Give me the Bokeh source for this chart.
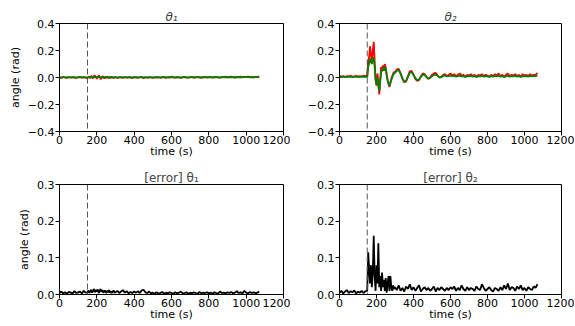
from bokeh.plotting import figure
from bokeh.layouts import gridplot
from bokeh.models import Range1d, FixedTicker, Span
from bokeh.embed import file_html
from bokeh.resources import INLINE

# sample times (s)
t = list(range(0, 150, 10)) + list(range(150, 300, 5)) + list(range(300, 1080, 10))

th1_red = [0.002,-0.004,0.005,0.000,-0.003,0.004,-0.002,0.003,0.001,-0.004,0.002,0.004,-0.001,0.003,-0.002,
    -0.005,0.004,0.008,-0.006,0.010,0.006,-0.008,0.012,0.014,0.003,-0.010,0.006,0.015,0.008,-0.012,-0.006,0.010,0.004,-0.008,0.006,-0.004,0.008,0.002,-0.006,0.005,-0.003,0.004,0.000,-0.005,0.003,
    0.002,-0.004,0.003,0.001,-0.003,0.004,-0.002,0.002,0.000,-0.004,
    0.003,0.001,-0.003,0.002,0.004,-0.006,0.003,-0.002,0.001,0.002,
    -0.003,0.002,0.000,0.003,-0.002,0.001,0.004,-0.003,0.002,0.000,
    0.006,0.002,-0.002,0.003,0.001,-0.003,0.002,0.004,0.000,-0.002,
    0.003,0.005,-0.002,0.002,0.004,0.001,-0.003,0.003,0.005,0.000,
    0.002,0.004,-0.002,0.003,0.005,0.001,-0.002,0.004,0.002,0.006,
    0.001,0.004,0.007,0.002,-0.001,0.005,0.003,0.006,0.002,0.004,
    0.003,0.006,0.002,0.005,0.001,0.004,0.003,0.008]

th1_green = [0.001,0.000,0.002,0.001,0.000,0.002,0.001,0.002,0.001,0.000,0.001,0.002,0.001,0.002,0.001,
    0.000,0.002,0.003,0.001,0.003,0.002,0.000,0.003,0.004,0.002,0.000,0.002,0.004,0.003,0.000,0.001,0.003,0.002,0.000,0.002,0.001,0.002,0.001,0.000,0.002,0.001,0.002,0.001,0.000,0.001,
    0.001,0.000,0.001,0.002,0.001,0.002,0.001,0.001,0.002,0.000,
    0.001,0.002,0.001,0.001,0.002,0.000,0.001,0.001,0.002,0.001,
    0.000,0.001,0.002,0.001,0.001,0.002,0.002,0.001,0.001,0.002,
    0.002,0.001,0.001,0.002,0.001,0.000,0.001,0.002,0.001,0.001,
    0.002,0.002,0.001,0.001,0.002,0.002,0.001,0.002,0.002,0.001,
    0.002,0.002,0.001,0.002,0.003,0.002,0.001,0.002,0.002,0.003,
    0.002,0.002,0.003,0.002,0.002,0.003,0.002,0.003,0.002,0.003,
    0.003,0.003,0.002,0.003,0.002,0.003,0.003,0.004]

th2_red = [0.012,0.006,0.010,0.004,0.011,0.008,0.013,0.005,0.009,0.012,0.006,0.010,0.008,0.013,0.011,
    0.012,0.120,0.150,0.230,0.170,0.120,0.200,0.265,0.120,-0.020,-0.060,0.030,-0.040,-0.125,-0.020,0.080,0.060,0.090,0.050,0.100,0.070,0.020,-0.020,-0.050,-0.070,-0.040,-0.010,0.010,0.030,0.040,
    0.040,0.060,0.065,0.030,-0.010,-0.035,-0.030,0.010,0.045,0.050,
    0.020,-0.010,-0.025,-0.020,0.010,0.030,0.025,0.005,-0.010,0.000,
    0.020,0.030,0.035,0.015,0.000,0.005,0.020,0.025,0.010,0.020,
    0.030,0.015,0.025,0.010,0.020,0.030,0.015,0.020,0.005,0.020,
    0.015,0.025,0.010,0.020,0.005,0.020,0.015,0.025,0.010,0.020,
    0.015,0.005,0.020,0.010,0.025,0.015,0.030,0.010,0.020,0.005,
    0.020,0.030,0.010,0.020,0.015,0.025,0.010,0.020,0.005,0.025,
    0.015,0.020,0.010,0.025,0.015,0.020,0.020,0.035]

th2_green = [0.005,0.003,0.006,0.004,0.005,0.004,0.006,0.003,0.005,0.006,0.004,0.005,0.004,0.006,0.005,
    0.005,0.080,0.100,0.140,0.120,0.100,0.130,0.150,0.080,-0.010,-0.050,0.000,-0.060,-0.100,-0.030,0.040,0.050,0.070,0.050,0.080,0.060,0.020,-0.020,-0.040,-0.060,-0.040,-0.020,0.000,0.020,0.030,
    0.035,0.050,0.055,0.030,-0.005,-0.030,-0.025,0.005,0.035,0.040,
    0.020,-0.005,-0.020,-0.015,0.005,0.020,0.020,0.005,-0.008,-0.002,
    0.010,0.018,0.022,0.012,0.002,0.002,0.010,0.015,0.008,0.010,
    0.014,0.010,0.012,0.006,0.010,0.014,0.008,0.010,0.004,0.008,
    0.008,0.012,0.006,0.010,0.004,0.008,0.008,0.012,0.006,0.010,
    0.008,0.004,0.010,0.006,0.012,0.008,0.014,0.006,0.010,0.004,
    0.008,0.012,0.006,0.010,0.008,0.012,0.006,0.010,0.004,0.010,
    0.008,0.010,0.006,0.012,0.008,0.010,0.010,0.016]

err1 = [0.004,0.008,0.003,0.006,0.002,0.007,0.005,0.003,0.009,0.004,0.006,0.008,0.003,0.010,0.005,
    0.006,0.011,0.004,0.009,0.013,0.005,0.010,0.015,0.006,0.012,0.008,0.014,0.004,0.010,0.015,0.007,0.012,0.005,0.009,0.011,0.004,0.010,0.006,0.012,0.005,0.009,0.004,0.008,0.011,0.005,
    0.006,0.010,0.004,0.008,0.012,0.005,0.009,0.003,0.007,0.004,
    0.008,0.005,0.009,0.004,0.011,0.013,0.006,0.004,0.008,0.003,
    0.005,0.002,0.006,0.003,0.004,0.007,0.002,0.005,0.003,0.006,
    0.004,0.002,0.006,0.003,0.005,0.008,0.003,0.004,0.006,0.002,
    0.005,0.003,0.006,0.004,0.002,0.007,0.003,0.005,0.004,0.006,
    0.003,0.005,0.002,0.006,0.004,0.003,0.008,0.004,0.005,0.003,
    0.006,0.004,0.007,0.003,0.005,0.009,0.004,0.006,0.003,0.010,
    0.005,0.003,0.007,0.004,0.006,0.003,0.005,0.008]

err2 = [0.005,0.010,0.003,0.008,0.012,0.004,0.009,0.006,0.011,0.003,0.008,0.005,0.010,0.004,0.009,
    0.010,0.115,0.070,0.030,0.080,0.020,0.060,0.160,0.050,0.010,0.080,0.030,0.140,0.020,0.050,0.010,0.060,0.020,0.040,0.010,0.045,0.005,0.030,0.050,0.010,0.050,0.020,0.010,0.025,0.015,
    0.020,0.012,0.025,0.010,0.018,0.008,0.022,0.015,0.028,0.012,
    0.020,0.010,0.018,0.025,0.008,0.015,0.020,0.012,0.018,0.010,
    0.015,0.022,0.008,0.018,0.012,0.020,0.015,0.010,0.018,0.012,
    0.020,0.015,0.022,0.010,0.018,0.012,0.025,0.015,0.010,0.020,
    0.012,0.018,0.015,0.010,0.022,0.015,0.012,0.028,0.018,0.010,
    0.015,0.020,0.012,0.008,0.018,0.015,0.010,0.020,0.012,0.025,
    0.015,0.030,0.012,0.020,0.018,0.010,0.022,0.015,0.025,0.012,
    0.018,0.010,0.020,0.015,0.012,0.022,0.018,0.028]

event_time = 150
x_ticks = [0, 200, 400, 600, 800, 1000, 1200]
top_yticks = [-0.4, -0.2, 0.0, 0.2, 0.4]
top_ylabels = ["\u22120.4", "\u22120.2", "0.0", "0.2", "0.4"]
bot_yticks = [0.0, 0.1, 0.2, 0.3]
bot_ylabels = ["0.0", "0.1", "0.2", "0.3"]
titles = ["\u03b8\u2081", "\u03b8\u2082", "[error] \u03b8\u2081", "[error] \u03b8\u2082"]

FONT = "DejaVu Sans"


def make(title, fw, fh, yr, yt, yl, left, right, top, bottom, ylabel, title_style="normal"):
    p = figure(frame_width=fw, frame_height=fh, output_backend="svg", toolbar_location=None,
               x_range=Range1d(0, 1200), y_range=Range1d(*yr),
               min_border_left=left, min_border_right=right,
               min_border_top=top, min_border_bottom=bottom)
    p.title.text = title
    p.title.align = "center"
    p.title.text_font = FONT
    p.title.text_font_size = "12px"
    p.title.text_font_style = title_style
    p.title.standoff = 0
    p.title.offset = 0
    p.grid.visible = False
    p.outline_line_color = "black"
    p.outline_line_width = 1
    p.background_fill_color = "white"
    p.border_fill_color = "white"
    p.xaxis.ticker = FixedTicker(ticks=x_ticks)
    p.yaxis.ticker = FixedTicker(ticks=yt)
    p.yaxis.major_label_overrides = {v: s for v, s in zip(yt, yl)}
    p.xaxis.axis_label = "time (s)"
    if ylabel:
        p.yaxis.axis_label = "angle (rad)"
    for ax in (p.xaxis, p.yaxis):
        ax.axis_line_color = "black"
        ax.major_tick_line_color = "black"
        ax.major_tick_out = 4
        ax.major_tick_in = 0
        ax.minor_tick_line_color = None
        ax.major_label_text_font = FONT
        ax.major_label_text_font_size = "11px"
        ax.major_label_text_color = "black"
        ax.axis_label_text_font = FONT
        ax.axis_label_text_font_size = "11px"
        ax.axis_label_text_font_style = "normal"
        ax.axis_label_text_color = "black"
    p.xaxis.major_label_standoff = 0
    p.xaxis.axis_label_standoff = -2
    p.yaxis.major_label_standoff = 1
    p.yaxis.axis_label_standoff = 3
    p.add_layout(Span(location=event_time, dimension="height", line_color="#555555",
                      line_width=1, line_dash="6 3"))
    return p


p1 = make(titles[0], 224, 108, (-0.4, 0.4), top_yticks, top_ylabels, 59, 7, 23, 27, True, "italic")
p1.line(t, th1_red, line_color="red", line_width=1.8)
p1.line(t, th1_green, line_color="green", line_width=1.8)

p2 = make(titles[1], 222, 108, (-0.4, 0.4), top_yticks, top_ylabels, 49, 13, 23, 27, False, "italic")
p2.line(t, th2_red, line_color="red", line_width=1.8)
p2.line(t, th2_green, line_color="green", line_width=1.8)

p3 = make(titles[2], 224, 110, (0.0, 0.3), bot_yticks, bot_ylabels, 59, 7, 24, 27, True)
p3.line(t, err1, line_color="black", line_width=1.8)

p4 = make(titles[3], 222, 110, (0.0, 0.3), bot_yticks, bot_ylabels, 49, 13, 24, 27, False)
p4.line(t, err2, line_color="black", line_width=1.8)

grid = gridplot([[p1, p2], [p3, p4]], toolbar_location=None)

open("out.html", "w").write(file_html(grid, INLINE))
